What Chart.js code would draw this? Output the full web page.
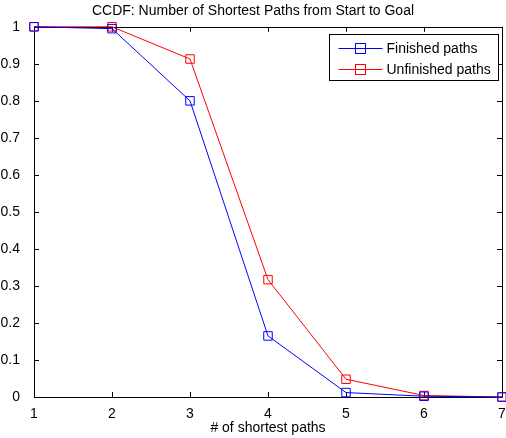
<!DOCTYPE html>
<html>
<head>
<meta charset="utf-8">
<script src="https://cdn.jsdelivr.net/npm/chart.js@4.4.1/dist/chart.umd.min.js"></script>
<style>
  html, body { margin: 0; padding: 0; background: #fff; }
  #wrap { width: 506px; height: 438px; }
</style>
</head>
<body>
<div id="wrap"><canvas id="grafico"></canvas></div>
<script>
// === DATI ===
const xValues = [1, 2, 3, 4, 5, 6, 7];
const finished = [1, 0.995, 0.8, 0.165, 0.012, 0.002, 0];
const unfinished = [1, 1, 0.913, 0.317, 0.048, 0.004, 0];
const seriesLabels = ['Finished paths', 'Unfinished paths'];
const titleText = 'CCDF: Number of Shortest Paths from Start to Goal';
const xTitle = '# of shortest paths';

const FONT = 'Liberation Sans, Arial, sans-serif';

const toPoints = arr => xValues.map((x, i) => ({ x: x, y: arr[i] }));

// box + tick interni stile MATLAB
const boxPlugin = {
  id: 'boxPlugin',
  beforeDatasetsDraw(chart) {
    const { ctx, chartArea: a, scales } = chart;
    const L = 5;
    ctx.save();
    ctx.strokeStyle = '#000';
    ctx.lineWidth = 1;
    ctx.beginPath();
    ctx.rect(Math.round(a.left) + 0.5, Math.round(a.top) + 0.5,
      Math.round(a.right - a.left), Math.round(a.bottom - a.top));
    scales.x.ticks.forEach(t => {
      const px = Math.round(scales.x.getPixelForValue(t.value)) + 0.5;
      ctx.moveTo(px, a.bottom); ctx.lineTo(px, a.bottom - L);
      ctx.moveTo(px, a.top); ctx.lineTo(px, a.top + L);
    });
    scales.y.ticks.forEach(t => {
      const py = Math.round(scales.y.getPixelForValue(t.value)) + 0.5;
      ctx.moveTo(a.left, py); ctx.lineTo(a.left + L, py);
      ctx.moveTo(a.right, py); ctx.lineTo(a.right - L, py);
    });
    ctx.stroke();
    ctx.restore();
  },
  afterDraw(chart) {
    // legenda
    const { ctx, chartArea: a } = chart;
    const bx = Math.round(a.right) - 173 + 0.5, by = Math.round(a.top) + 7 + 0.5, bw = 169, bh = 46;
    ctx.save();
    ctx.fillStyle = '#fff';
    ctx.fillRect(bx, by, bw, bh);
    ctx.strokeStyle = '#000';
    ctx.lineWidth = 1;
    ctx.strokeRect(bx, by, bw, bh);
    ctx.font = '14px ' + FONT;
    ctx.textBaseline = 'middle';
    chart.data.datasets.forEach((ds, i) => {
      const y = Math.round(by + 13 + i * 21) + 0.5;
      ctx.strokeStyle = ds.borderColor;
      ctx.beginPath();
      ctx.moveTo(bx + 9, y); ctx.lineTo(bx + 53, y);
      ctx.stroke();
      ctx.strokeRect(bx + 31 - 5, y - 5, 10, 10);
      ctx.fillStyle = '#000';
      ctx.fillText(ds.label, bx + 57, y + 1);
    });
    ctx.restore();
  }
};

const ctx = document.getElementById('grafico').getContext('2d');
new Chart(ctx, {
  type: 'line',
  data: {
    datasets: [
      {
        label: seriesLabels[0],
        data: toPoints(finished),
        borderColor: '#0000ff',
        backgroundColor: 'rgba(0,0,0,0)',
        borderWidth: 1,
        pointStyle: 'rect',
        pointRadius: 6,
        pointBorderWidth: 1,
        tension: 0,
        clip: false
      },
      {
        label: seriesLabels[1],
        data: toPoints(unfinished),
        borderColor: '#ff0000',
        backgroundColor: 'rgba(0,0,0,0)',
        borderWidth: 1,
        pointStyle: 'rect',
        pointRadius: 6,
        pointBorderWidth: 1,
        tension: 0,
        clip: false
      }
    ]
  },
  options: {
    responsive: true,
    maintainAspectRatio: false,
    animation: false,
    devicePixelRatio: 1,
    layout: { autoPadding: false, padding: { left: 0, right: 0, top: 0, bottom: 0 } },
    plugins: {
      legend: { display: false },
      tooltip: { enabled: false },
      title: {
        display: true,
        text: titleText,
        color: '#000',
        font: { family: FONT, size: 14, weight: 'normal', lineHeight: 1.2 },
        padding: { top: 3, bottom: 7 }
      }
    },
    scales: {
      x: {
        type: 'linear',
        min: 1, max: 7,
        grid: { display: false },
        border: { display: false },
        ticks: { stepSize: 1, color: '#000', padding: 1, maxRotation: 0,
          font: { family: FONT, size: 14 } },
        title: { display: true, text: xTitle, color: '#000',
          font: { family: FONT, size: 14 }, padding: { top: 3, bottom: 1 } },
        afterFit(s) { s.height = 41; s.paddingLeft = 0; s.paddingRight = 4; }
      },
      y: {
        min: 0, max: 1,
        grid: { display: false },
        border: { display: false },
        ticks: { stepSize: 0.1, color: '#000', padding: 6,
          font: { family: FONT, size: 14 },
          callback: v => String(Math.round(v * 10) / 10) },
        afterFit(s) { s.width = 34; s.paddingTop = 0; s.paddingBottom = 0; }
      }
    }
  },
  plugins: [boxPlugin]
});
</script>
</body>
</html>
